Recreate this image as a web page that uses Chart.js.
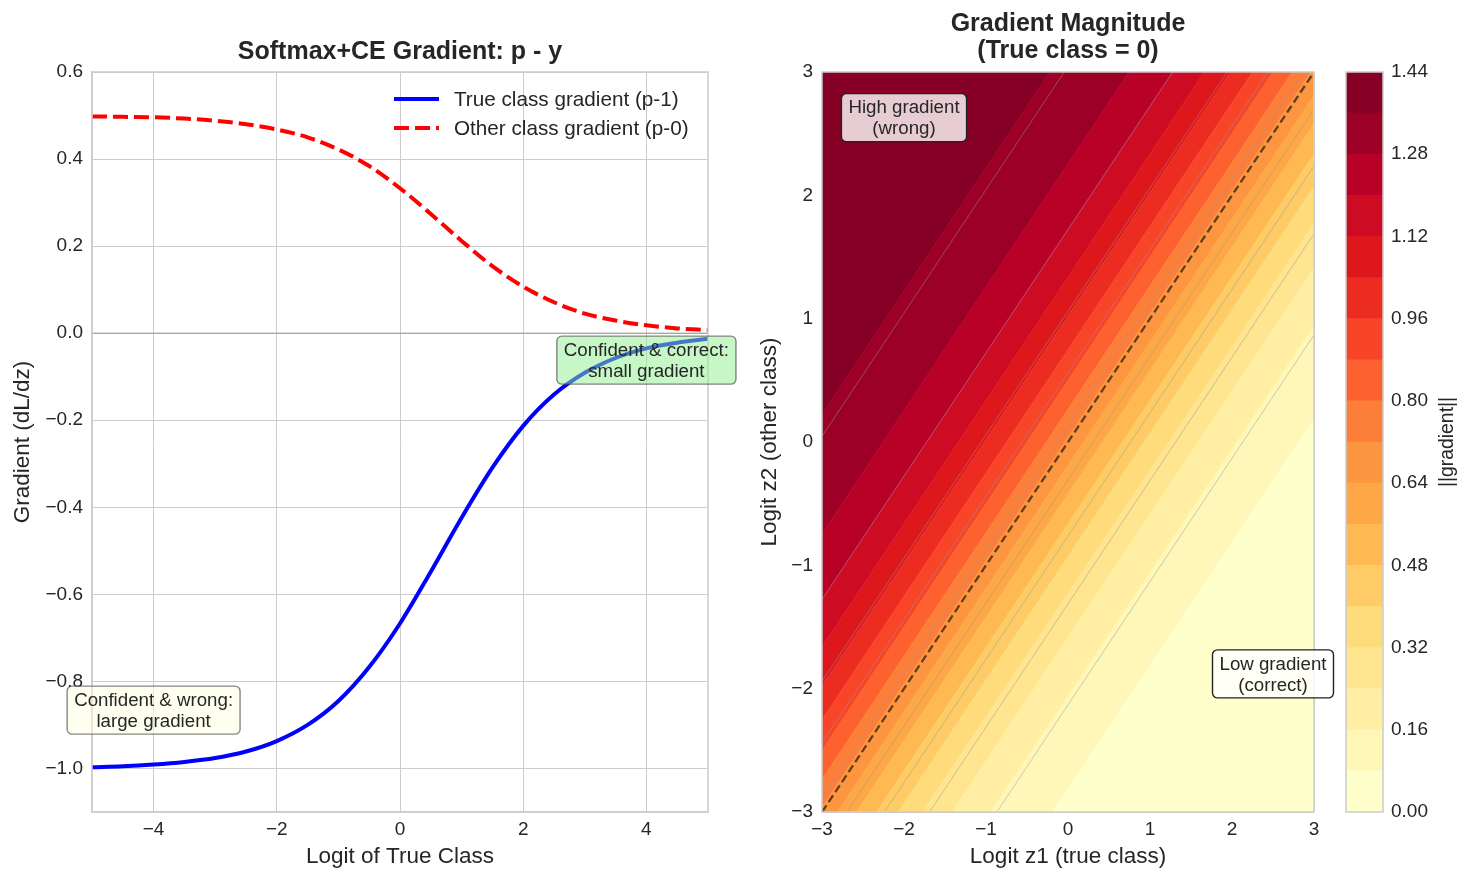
<!DOCTYPE html>
<html>
<head>
<meta charset="utf-8">
<script src="https://cdn.jsdelivr.net/npm/chart.js@4"></script>
<style>
body { margin: 0; background: #fff; width: 1472px; height: 882px; position: relative; overflow: hidden; }
canvas { position: absolute; top: 0; }
</style>
</head>
<body>
<canvas id="lineChart" width="740" height="882" style="left:0px"></canvas>
<canvas id="contourChart" width="600" height="882" style="left:740px"></canvas>
<canvas id="colorbarChart" width="132" height="882" style="left:1340px"></canvas>
<script>
// left panel: gradient vs logit of the true class
const logits = [-5, -4.5, -4, -3.5, -3, -2.5, -2, -1.5, -1, -0.5, 0, 0.5, 1, 1.5, 2, 2.5, 3, 3.5, 4, 4.5, 5];
const trueGrad = [-0.997, -0.995, -0.991, -0.985, -0.976, -0.961, -0.937, -0.900, -0.845, -0.767, -0.667,
                  -0.548, -0.424, -0.309, -0.213, -0.141, -0.091, -0.057, -0.035, -0.022, -0.013];
const otherGrad = [0.498, 0.497, 0.496, 0.493, 0.488, 0.480, 0.468, 0.450, 0.422, 0.384, 0.333,
                   0.274, 0.212, 0.154, 0.107, 0.071, 0.045, 0.029, 0.018, 0.011, 0.007];
const leftXTicks = [-4, -2, 0, 2, 4];
const leftYTicks = [-1.0, -0.8, -0.6, -0.4, -0.2, 0.0, 0.2, 0.4, 0.6];

// right panel: filled contour bands, boundaries given as offset z2 - z1
const zTicks = [-3, -2, -1, 0, 1, 2, 3];
const bandLevels = [0, 0.08, 0.16, 0.24, 0.32, 0.40, 0.48, 0.56, 0.64, 0.72, 0.80, 0.88, 0.96, 1.04, 1.12, 1.20, 1.28, 1.36, 1.44];
const bandOffsets = [-20, -2.814, -2.059, -1.588, -1.229, -0.930, -0.666, -0.422, -0.190, 0.037,
                     0.264, 0.499, 0.748, 1.022, 1.337, 1.723, 2.255, 3.222, 20];
const bandColors = ["#ffffcc", "#fff7b7", "#ffeea3", "#ffe58f", "#fedb7b", "#fecb67", "#feb953", "#fea747", "#fd9640",
                    "#fd7e38", "#fc612f", "#f84528", "#ec2c21", "#de171d", "#cd0b22", "#b90026", "#9d0026", "#860026"];
const lineLevels = [0.15, 0.30, 0.45, 0.60, 0.75, 0.90, 1.05, 1.20, 1.35];
const lineOffsets = [-2.132, -1.312, -0.762, -0.305, 0.122, 0.560, 1.059, 1.723, 3.046];
const diagZ = [-3, 3];
const cbarTicks = [0, 0.16, 0.32, 0.48, 0.64, 0.80, 0.96, 1.12, 1.28, 1.44];

const FONT = '"Liberation Sans", Arial, sans-serif';
const INK = "#262626";
const GRID = "#cccccc";
const TICK_SIZE = 19;
const LABEL_SIZE = 22.5;
Chart.defaults.font.family = FONT;
Chart.defaults.color = INK;

const minus = s => String(s).replace("-", "\u2212");

function roundBox(ctx, x, y, w, h, r) {
    ctx.beginPath();
    ctx.moveTo(x + r, y);
    ctx.arcTo(x + w, y, x + w, y + h, r);
    ctx.arcTo(x + w, y + h, x, y + h, r);
    ctx.arcTo(x, y + h, x, y, r);
    ctx.arcTo(x, y, x + w, y, r);
    ctx.closePath();
}

// titles, frame, inline legend and text boxes
function makeDecor(cfg) {
    return {
        id: "decor",
        afterDraw(chart) {
            const ctx = chart.ctx, a = chart.chartArea;
            ctx.save();
            if (cfg.frame) {
                ctx.strokeStyle = GRID;
                ctx.lineWidth = 1.5;
                ctx.strokeRect(a.left, a.top, a.right - a.left, a.bottom - a.top);
            }
            ctx.fillStyle = INK;
            ctx.textAlign = "center";
            ctx.textBaseline = "middle";
            if (cfg.title) {
                ctx.font = "bold 25px " + FONT;
                cfg.title.forEach((t, i) => ctx.fillText(t, (a.left + a.right) / 2, cfg.titleY[i]));
            }
            if (cfg.legend) {
                chart.data.datasets.filter(d => d.label).forEach((d, i) => {
                    const y = cfg.legend.y + i * 29;
                    ctx.strokeStyle = d.borderColor;
                    ctx.lineWidth = d.borderWidth;
                    ctx.setLineDash(d.borderDash || []);
                    ctx.beginPath();
                    ctx.moveTo(cfg.legend.x, y);
                    ctx.lineTo(cfg.legend.x + 45, y);
                    ctx.stroke();
                    ctx.setLineDash([]);
                    ctx.font = "20.7px " + FONT;
                    ctx.textAlign = "left";
                    ctx.fillStyle = INK;
                    ctx.fillText(d.label, cfg.legend.x + 60, y + 1);
                });
            }
            (cfg.notes || []).forEach(n => {
                const cx = chart.scales.x.getPixelForValue(n.x);
                const cy = chart.scales.y.getPixelForValue(n.y);
                ctx.font = "18.7px " + FONT;
                const w = Math.max(...n.lines.map(l => ctx.measureText(l).width)) + 14;
                const h = n.lines.length * 21 + 6;
                roundBox(ctx, cx - w / 2, cy - h / 2, w, h, 5);
                ctx.fillStyle = n.fill;
                ctx.fill();
                ctx.strokeStyle = n.edge;
                ctx.lineWidth = 1.4;
                ctx.stroke();
                ctx.fillStyle = INK;
                ctx.textAlign = "center";
                n.lines.forEach((l, i) => ctx.fillText(l, cx, cy + 1 + (i - (n.lines.length - 1) / 2) * 21));
            });
            if (cfg.sideLabel) {
                ctx.translate(cfg.sideLabel.x, cfg.sideLabel.y);
                ctx.rotate(-Math.PI / 2);
                ctx.font = "19.4px " + FONT;
                ctx.fillStyle = INK;
                ctx.textAlign = "center";
                ctx.fillText(cfg.sideLabel.text, 0, 0);
            }
            ctx.restore();
        }
    };
}

function fixedTicks(list) {
    return scale => { scale.ticks = list.map(v => ({ value: v })); };
}

// ---- left: line chart ----
const toPts = ys => ys.map((y, i) => ({ x: logits[i], y: y }));

new Chart(document.getElementById("lineChart"), {
    type: "line",
    data: {
        datasets: [
            {
                label: "True class gradient (p-1)",
                data: toPts(trueGrad),
                borderColor: "#0000ff",
                borderWidth: 4,
                pointRadius: 0,
                cubicInterpolationMode: "monotone",
                order: 0
            },
            {
                label: "Other class gradient (p-0)",
                data: toPts(otherGrad),
                borderColor: "#ff0000",
                borderWidth: 4,
                borderDash: [15, 6],
                pointRadius: 0,
                cubicInterpolationMode: "monotone",
                order: 1
            },
            {
                data: [{ x: logits[0], y: 0 }, { x: logits[logits.length - 1], y: 0 }],
                borderColor: "rgba(128,128,128,0.5)",
                borderWidth: 1.5,
                pointRadius: 0,
                order: 2
            }
        ]
    },
    options: {
        responsive: false,
        animation: false,
        devicePixelRatio: 1,
        layout: { padding: { top: 72, right: 32, left: 0, bottom: 0 } },
        plugins: { legend: { display: false }, tooltip: { enabled: false } },
        scales: {
            x: {
                type: "linear", min: -5, max: 5,
                afterBuildTicks: fixedTicks(leftXTicks),
                afterFit: s => { s.height = 70; },
                grid: { color: GRID, lineWidth: 1, drawTicks: false },
                border: { color: GRID, width: 1.5 },
                ticks: { padding: 6, font: { size: TICK_SIZE }, callback: v => minus(v) },
                title: { display: true, text: "Logit of True Class", font: { size: LABEL_SIZE }, padding: { top: 0, bottom: 12 } }
            },
            y: {
                min: -1.1, max: 0.6,
                afterBuildTicks: fixedTicks(leftYTicks),
                afterFit: s => { s.width = 92; },
                grid: { color: GRID, lineWidth: 1, drawTicks: false },
                border: { color: GRID, width: 1.5 },
                ticks: { padding: 9, font: { size: TICK_SIZE }, callback: v => minus(v.toFixed(1)) },
                title: { display: true, text: "Gradient (dL/dz)", font: { size: LABEL_SIZE }, padding: { top: 9, bottom: 0 } }
            }
        }
    },
    plugins: [makeDecor({
        frame: true,
        title: ["Softmax+CE Gradient: p - y"],
        titleY: [52],
        legend: { x: 394, y: 99 },
        notes: [
            { x: -4, y: -0.866, lines: ["Confident & wrong:", "large gradient"], fill: "rgba(255,255,224,0.5)", edge: "rgba(70,70,70,0.65)" },
            { x: 4, y: -0.062, lines: ["Confident & correct:", "small gradient"], fill: "rgba(144,238,144,0.5)", edge: "rgba(70,70,70,0.65)" }
        ]
    })]
});

// ---- middle: filled contour bands ----
const offsetLine = d => [{ x: diagZ[0], y: diagZ[0] + d }, { x: diagZ[1], y: diagZ[1] + d }];

const bandSets = bandOffsets.map((d, i) => ({
    data: offsetLine(d),
    borderColor: i > 0 ? bandColors[i - 1] : "rgba(0,0,0,0)",
    borderWidth: 1,
    backgroundColor: i > 0 ? bandColors[i - 1] : "rgba(0,0,0,0)",
    fill: i > 0 ? "-1" : false,
    pointRadius: 0,
    order: 3
}));
const contourSets = lineOffsets.map(d => ({
    data: offsetLine(d),
    borderColor: "rgba(150,150,150,0.7)",
    borderWidth: 0.7,
    pointRadius: 0,
    fill: false,
    order: 1
}));
const diagSet = {
    data: [{ x: diagZ[0], y: diagZ[0] }, { x: diagZ[1], y: diagZ[1] }],
    borderColor: "rgba(0,0,0,0.6)",
    borderWidth: 2.3,
    borderDash: [8, 4],
    pointRadius: 0,
    fill: false,
    order: 0
};

new Chart(document.getElementById("contourChart"), {
    type: "line",
    data: { datasets: [...bandSets, ...contourSets, diagSet] },
    options: {
        responsive: false,
        animation: false,
        devicePixelRatio: 1,
        layout: { padding: { top: 72, right: 26, left: 0, bottom: 0 } },
        plugins: { legend: { display: false }, tooltip: { enabled: false } },
        scales: {
            x: {
                type: "linear", min: -3, max: 3,
                afterBuildTicks: fixedTicks(zTicks),
                afterFit: s => { s.height = 70; },
                grid: { color: GRID, drawTicks: false },
                border: { display: false },
                ticks: { padding: 6, font: { size: TICK_SIZE }, callback: v => minus(v) },
                title: { display: true, text: "Logit z1 (true class)", font: { size: LABEL_SIZE }, padding: { top: 0, bottom: 12 } }
            },
            y: {
                type: "linear", min: -3, max: 3,
                afterBuildTicks: fixedTicks(zTicks),
                afterFit: s => { s.width = 82; },
                grid: { color: GRID, drawTicks: false },
                border: { display: false },
                ticks: { padding: 9, font: { size: TICK_SIZE }, callback: v => minus(v) },
                title: { display: true, text: "Logit z2 (other class)", font: { size: LABEL_SIZE }, padding: { top: 16, bottom: 0 } }
            }
        }
    },
    plugins: [makeDecor({
        frame: true,
        title: ["Gradient Magnitude", "(True class = 0)"],
        titleY: [24, 51],
        notes: [
            { x: -2.0, y: 2.63, lines: ["High gradient", "(wrong)"], fill: "rgba(255,255,255,0.8)", edge: "#222222" },
            { x: 2.5, y: -1.88, lines: ["Low gradient", "(correct)"], fill: "rgba(255,255,255,0.8)", edge: "#222222" }
        ]
    })]
});

// ---- right: colorbar ----
new Chart(document.getElementById("colorbarChart"), {
    type: "bar",
    data: {
        labels: [""],
        datasets: bandColors.map((c, i) => ({
            data: [[bandLevels[i], bandLevels[i + 1]]],
            backgroundColor: c,
            borderWidth: 0,
            barPercentage: 1,
            categoryPercentage: 1,
            grouped: false
        }))
    },
    options: {
        responsive: false,
        animation: false,
        devicePixelRatio: 1,
        layout: { padding: { top: 72, right: 0, left: 6, bottom: 70 } },
        plugins: { legend: { display: false }, tooltip: { enabled: false } },
        scales: {
            x: { display: false },
            y: {
                position: "right", min: 0, max: 1.44,
                afterBuildTicks: fixedTicks(cbarTicks),
                afterFit: s => { s.width = 89; },
                grid: { display: false, drawTicks: false },
                border: { display: false },
                ticks: { padding: 8, font: { size: TICK_SIZE }, callback: v => v.toFixed(2) }
            }
        }
    },
    plugins: [makeDecor({
        frame: true,
        sideLabel: { text: "||gradient||", x: 108, y: 442 }
    })]
});
</script>
</body>
</html>
